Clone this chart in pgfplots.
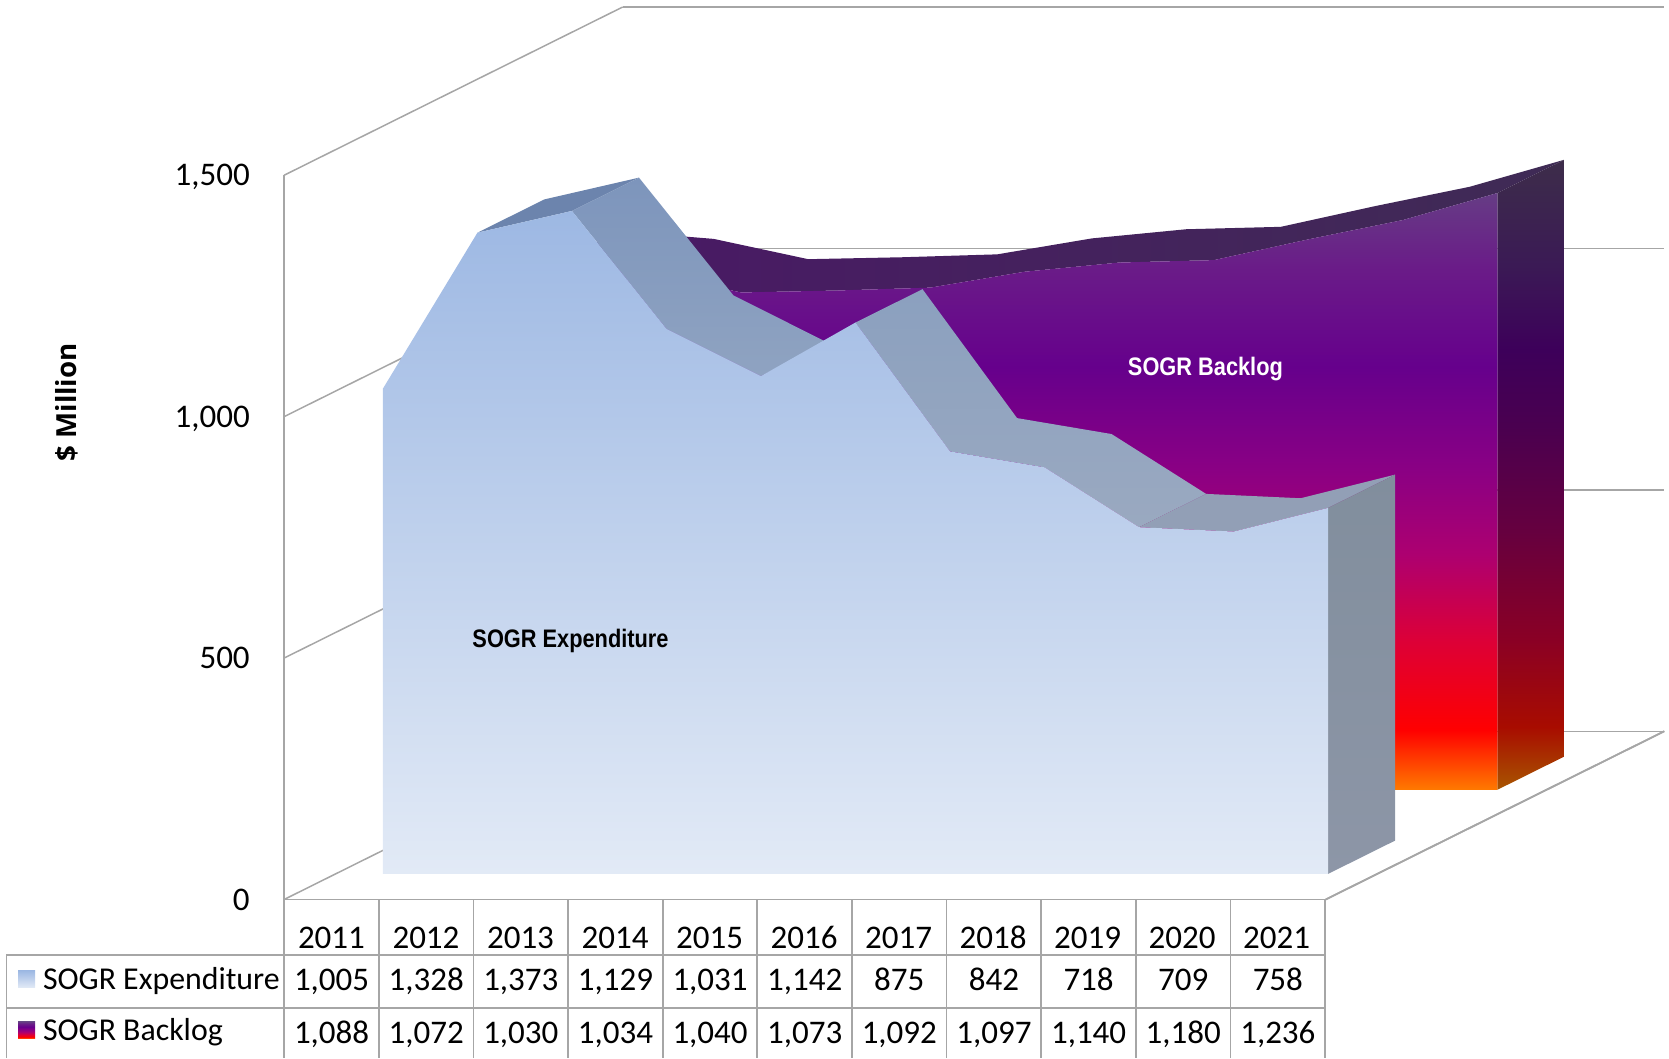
\documentclass[border=0pt]{standalone}
\usepackage{fontspec}
\setmainfont{Carlito}
\newfontfamily\labelfont[FakeStretch=0.86]{Liberation Sans}
\newfontfamily\unitfont{Open Sans}
\usepackage{pgfplots}
\pgfplotsset{compat=1.18}

\definecolor{gridgray}{HTML}{A6A6A6}
\definecolor{expA}{HTML}{9DB8E3}
\definecolor{expB}{HTML}{E2EAF6}
% top bands and side face
\definecolor{btL}{HTML}{4A1866}
\definecolor{btR}{HTML}{3F2B55}
\definecolor{etA}{HTML}{6C84AD}
\definecolor{etB}{HTML}{7D95BC}
\definecolor{etC}{HTML}{8FA3C1}
\definecolor{etD}{HTML}{8BA0BF}
\definecolor{etE}{HTML}{9AA9C0}
\definecolor{etF}{HTML}{929FB6}
\definecolor{esA}{HTML}{818E9D}
\definecolor{esB}{HTML}{8D96A7}
% backlog front face, bottom to top
\definecolor{f0}{HTML}{FF7A00}
\definecolor{f1}{HTML}{FF0000}
\definecolor{f2}{HTML}{DC0038}
\definecolor{f3}{HTML}{AD0070}
\definecolor{f4}{HTML}{8A0084}
\definecolor{f5}{HTML}{66008C}
\definecolor{f6}{HTML}{6A1C88}
\definecolor{f7}{HTML}{663C85}
% backlog side face, bottom to top
\definecolor{s0}{HTML}{A85600}
\definecolor{s1}{HTML}{A80C00}
\definecolor{s2}{HTML}{8A0025}
\definecolor{s3}{HTML}{66003F}
\definecolor{s4}{HTML}{4A0050}
\definecolor{s5}{HTML}{3D005A}
\definecolor{s6}{HTML}{3B1A55}
\definecolor{s7}{HTML}{3D2D4A}
\pgfdeclareverticalshading{backfront}{100bp}{color(0bp)=(f0); color(25bp)=(f0); color(30bp)=(f1);
  color(37.6bp)=(f2); color(44.7bp)=(f3); color(51.9bp)=(f4); color(60.4bp)=(f5); color(68.8bp)=(f6);
  color(75bp)=(f7); color(100bp)=(f7)}
\pgfdeclareverticalshading{backside}{100bp}{color(0bp)=(s0); color(25bp)=(s0); color(30bp)=(s1);
  color(37bp)=(s2); color(45.5bp)=(s3); color(53.9bp)=(s4); color(59.9bp)=(s5); color(66.6bp)=(s6);
  color(75bp)=(s7); color(100bp)=(s7)}

% depth positions of the two series
\def\ea{0.152}\def\eb{0.350}
\def\ba{0.652}\def\bb{0.850}

\begin{document}
\begin{tikzpicture}[x=0.5pt,y=-0.5pt]
\useasboundingbox (0,0) rectangle (1568,994);
\begin{axis}[
  at={(133.5pt,-422.5pt)}, anchor=south west,
  x={(44.4pt,0pt)}, y={(159pt,79pt)}, z={(0pt,0.2268pt)},
  xmin=-0.5, xmax=10.52, ymin=0, ymax=1, zmin=0, zmax=1500,
  clip=false,
  axis lines=left,
  axis line style={-,draw=gridgray,line width=0.8pt},
  major tick length=0pt,
  xtick={0,...,10},
  xticklabels={2011,2012,2013,2014,2015,2016,2017,2018,2019,2020,2021},
  ytick=\empty,
  ztick={0,500,1000,1500},
  zmajorgrids=true,
  grid style={gridgray,line width=0.7pt},
  scaled z ticks=false,
  /pgf/number format/assume math mode=true,
  /pgf/number format/1000 sep={,},
  xticklabel style={font=\fontsize{15.5}{15.5}\selectfont,anchor=north,inner sep=0pt,
    text height=10pt,text depth=0pt,yshift=-13pt},
  zticklabel style={font=\fontsize{15.5}{15.5}\selectfont,anchor=east,inner sep=0pt,
    text height=10pt,text depth=0pt,xshift=-16pt,yshift=0pt},
]
% right edge of the floor
\addplot3[gridgray,line width=0.8pt] coordinates {(10.52,0,0)(10.52,1,0)};

% SOGR Backlog: top band, side face, front face
\addplot3[draw=none,left color=btL,right color=btR] coordinates {
  (0,\ba,1088)(1,\ba,1072)(2,\ba,1030)(3,\ba,1034)(4,\ba,1040)(5,\ba,1073)
  (6,\ba,1092)(7,\ba,1097)(8,\ba,1140)(9,\ba,1180)(10,\ba,1236)
  (10,\bb,1236)(9,\bb,1180)(8,\bb,1140)(7,\bb,1097)(6,\bb,1092)(5,\bb,1073)
  (4,\bb,1040)(3,\bb,1034)(2,\bb,1030)(1,\bb,1072)(0,\bb,1088)};
\addplot3[draw=none,shade,shading=backside] coordinates {(10,\ba,0)(10,\ba,1236)(10,\bb,1236)(10,\bb,0)};
\addplot3[draw=none,shade,shading=backfront] coordinates {
  (0,\ba,0)(0,\ba,1088)(1,\ba,1072)(2,\ba,1030)(3,\ba,1034)(4,\ba,1040)(5,\ba,1073)
  (6,\ba,1092)(7,\ba,1097)(8,\ba,1140)(9,\ba,1180)(10,\ba,1236)(10,\ba,0)};

% SOGR Expenditure: top bands, side face, front face
\addplot3[draw=none,fill=etA] coordinates {(1,\ea,1328)(2,\ea,1373)(2,\eb,1373)(1,\eb,1328)};
\addplot3[draw=none,top color=etB,bottom color=etC] coordinates {
  (2,\ea,1373)(3,\ea,1129)(4,\ea,1031)(4,\eb,1031)(3,\eb,1129)(2,\eb,1373)};
\addplot3[draw=none,top color=etD,bottom color=etE] coordinates {
  (5,\ea,1142)(6,\ea,875)(7,\ea,842)(8,\ea,718)(8,\eb,718)(7,\eb,842)(6,\eb,875)(5,\eb,1142)};
\addplot3[draw=none,fill=etF] coordinates {
  (8,\ea,718)(9,\ea,709)(10,\ea,758)(10,\eb,758)(9,\eb,709)(8,\eb,718)};
\addplot3[draw=none,top color=esA,bottom color=esB] coordinates {(10,\ea,0)(10,\ea,758)(10,\eb,758)(10,\eb,0)};
\addplot3[draw=none,top color=expA,bottom color=expB] coordinates {
  (0,\ea,0)(0,\ea,1005)(1,\ea,1328)(2,\ea,1373)(3,\ea,1129)(4,\ea,1031)(5,\ea,1142)
  (6,\ea,875)(7,\ea,842)(8,\ea,718)(9,\ea,709)(10,\ea,758)(10,\ea,0)};
\end{axis}

% data table under the chart
\draw[gridgray,line width=0.8pt] (6,897) -- (1245,897) (6,947) -- (1245,947) (6,897) -- (6,994);
\foreach \i in {0,...,11} \draw[gridgray,line width=0.8pt] (267+88.9*\i,845) -- (267+88.9*\i,994);
\tikzset{cell/.style={font=\fontsize{15.5}{15.5}\selectfont,inner sep=0pt,text height=10pt,text depth=0pt}}
\foreach \v [count=\i from 0] in {{1,005},{1,328},{1,373},{1,129},{1,031},{1,142},875,842,718,709,758}
  \node[cell] at (311.5+88.9*\i,921) {\v};
\foreach \v [count=\i from 0] in {{1,088},{1,072},{1,030},{1,034},{1,040},{1,073},{1,092},{1,097},{1,140},{1,180},{1,236}}
  \node[cell] at (311.5+88.9*\i,970) {\v};
\shade[top color=expA,bottom color=expB] (17,912) rectangle (33,928);
\shade[shading=backfront] (17,960) rectangle (33,976);
\node[font=\fontsize{14.95}{15}\selectfont,anchor=west,inner sep=0pt] at (40,922) {SOGR Expenditure};
\node[font=\fontsize{14.95}{15}\selectfont,anchor=west,inner sep=0pt] at (40,970) {SOGR Backlog};

\node[font=\labelfont\bfseries\fontsize{11.9}{12}\selectfont] at (536,602) {SOGR Expenditure};
\node[font=\labelfont\bfseries\fontsize{11.9}{12}\selectfont,white] at (1132.5,347) {SOGR Backlog};
\node[font=\unitfont\bfseries\fontsize{13}{13}\selectfont,rotate=90] at (63,378) {\$ Million};
\end{tikzpicture}
\end{document}
